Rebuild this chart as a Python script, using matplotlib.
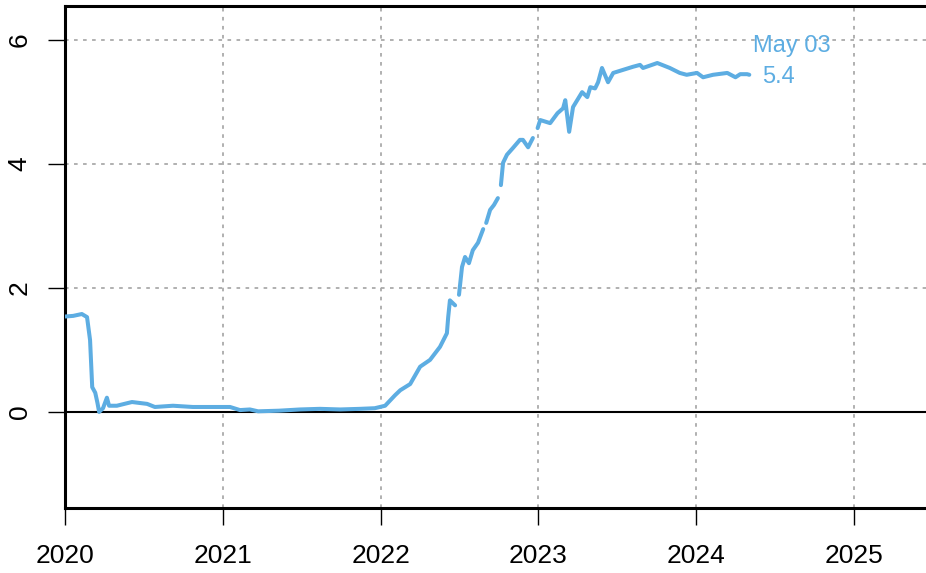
import numpy as np
import pandas as pd
import matplotlib
matplotlib.use("Agg")
import matplotlib.pyplot as plt

# 3-month yield (NaN = gap in the series)
dates = ["2020-01-02", "2020-01-20", "2020-02-09", "2020-02-21", "2020-02-28",
         "2020-03-04", "2020-03-11", "2020-03-16", "2020-03-20", "2020-03-29",
         "2020-04-07", "2020-04-12", "2020-04-30", "2020-06-04", "2020-07-09",
         "2020-07-27", "2020-09-07", "2020-10-23", "2020-12-17", "2021-01-17",
         "2021-02-09", "2021-03-04", "2021-03-23", "2021-05-10", "2021-06-28",
         "2021-08-13", "2021-09-29", "2021-11-14", "2021-12-18", "2022-01-11",
         "2022-02-03", "2022-02-15", "2022-03-10", "2022-04-02", "2022-04-25",
         "2022-05-18", "2022-06-03", "2022-06-06", "2022-06-10", "2022-06-22",
         "2022-06-26", "2022-07-01", "2022-07-08", "2022-07-15", "2022-07-24",
         "2022-08-02", "2022-08-14", "2022-08-26", "2022-08-29", "2022-09-02",
         "2022-09-11", "2022-09-20", "2022-09-29", "2022-10-03", "2022-10-06",
         "2022-10-11", "2022-10-20", "2022-11-03", "2022-11-19", "2022-11-26",
         "2022-12-08", "2022-12-19", "2022-12-25", "2022-12-30", "2023-01-05",
         "2023-01-28", "2023-02-14", "2023-02-27", "2023-03-04", "2023-03-13",
         "2023-03-22", "2023-04-12", "2023-04-24", "2023-05-01", "2023-05-12",
         "2023-05-19", "2023-05-28", "2023-06-11", "2023-06-23", "2023-07-16",
         "2023-08-08", "2023-08-24", "2023-08-31", "2023-10-03", "2023-10-14",
         "2023-11-01", "2023-11-24", "2023-12-10", "2024-01-03", "2024-01-17",
         "2024-02-09", "2024-03-13", "2024-04-01", "2024-04-12", "2024-04-28",
         "2024-05-03"]
yields = [1.54, 1.55, 1.58, 1.53, 1.16,
          0.40, 0.31, 0.15, 0.00, 0.06,
          0.23, 0.10, 0.10, 0.16, 0.13,
          0.08, 0.10, 0.08, 0.08, 0.08,
          0.03, 0.04, 0.01, 0.02, 0.04,
          0.05, 0.04, 0.05, 0.06, 0.10,
          0.27, 0.35, 0.45, 0.73, 0.84,
          1.05, 1.27, 1.53, 1.80, 1.72,
          np.nan, 1.89, 2.34, 2.50, 2.40,
          2.61, 2.73, 2.95, np.nan, 3.05,
          3.26, 3.34, 3.45, np.nan, 3.66,
          4.02, 4.15, 4.26, 4.39, 4.39,
          4.27, 4.42, np.nan, 4.58, 4.71,
          4.66, 4.82, 4.90, 5.03, 4.52,
          4.92, 5.16, 5.08, 5.24, 5.22,
          5.32, 5.55, 5.32, 5.47, 5.52,
          5.57, 5.60, 5.55, 5.63, 5.60,
          5.55, 5.47, 5.44, 5.47, 5.40,
          5.44, 5.47, 5.40, 5.45, 5.45,
          5.44]

years = list(range(2020, 2026))

dt = pd.to_datetime(dates)
col = "#5DADE2"

plt.rcParams["font.family"] = ["Liberation Sans", "DejaVu Sans"]
fig = plt.figure(figsize=(9.26, 5.73), dpi=100)
ax = fig.add_axes([65 / 926, 65 / 573, 861 / 926, 502 / 573])

ax.set_xlim(pd.Timestamp("2020-01-01"), pd.Timestamp("2025-06-16"))
ax.set_ylim(-1.55, 6.55)

for y in [2, 4, 6]:
    ax.axhline(y, color="#AAAAAA", lw=1.3, ls=(0, (2, 3)), zorder=1)
for yr in years:
    ax.axvline(pd.Timestamp(f"{yr}-01-01"), color="#AAAAAA", lw=1.3,
               ls=(0, (2, 3)), zorder=1)
ax.axhline(0, color="black", lw=1.5, zorder=2)

ax.plot(dt, yields, color=col, lw=2.9, solid_capstyle="round",
        solid_joinstyle="round", zorder=3)

last = yields[-1]
ax.annotate(dt[-1].strftime("%b %d"), xy=(dt[-1], last), xytext=(4, 29),
            textcoords="offset pixels", ha="left", va="center",
            color=col, fontsize=17)
ax.annotate(f"{last:.1f}", xy=(dt[-1], last), xytext=(13, -2),
            textcoords="offset pixels", ha="left", va="center",
            color=col, fontsize=17)

ax.set_xticks([pd.Timestamp(f"{yr}-01-01") for yr in years])
ax.set_xticklabels([str(yr) for yr in years])
ax.set_yticks([0, 2, 4, 6])
ax.set_yticklabels(["0", "2", "4", "6"], rotation=90, va="center")

ax.tick_params(axis="both", length=12, width=1, labelsize=19, color="black")
ax.tick_params(axis="x", pad=14)
ax.tick_params(axis="y", pad=12)

ax.spines["right"].set_visible(False)
for s in ["left", "bottom", "top"]:
    ax.spines[s].set_linewidth(2.2)

fig.savefig("out.png", dpi=100)
